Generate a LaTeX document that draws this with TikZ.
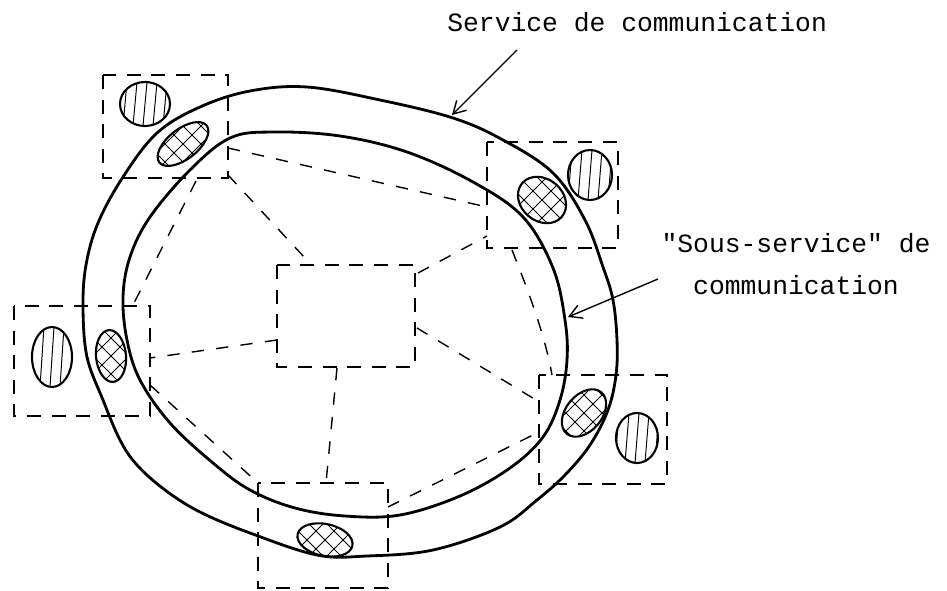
\documentclass[tikz,border=0pt]{standalone}
\usepackage{fontspec}
\setmonofont{Liberation Mono}
\usetikzlibrary{arrows.meta}

% blob with vertical hatching: x, y, x radius, y radius
\newcommand{\vblob}[4]{%
  \begin{scope}
    \clip (#1,#2) ellipse [x radius=#3, y radius=#4];
    \foreach \k in {-3,...,3}
      \draw[hatch] ({#1+\k*10+2},{#2-#4}) -- ({#1+\k*10-2},{#2+#4});
  \end{scope}
  \draw[blob] (#1,#2) ellipse [x radius=#3, y radius=#4];
}
% blob with cross hatching: x, y, x radius, y radius, angle
\newcommand{\xblob}[5]{%
  \begin{scope}
    \clip[shift={(#1,#2)}, rotate=#5] (0,0) ellipse [x radius=#3, y radius=#4];
    \foreach \k in {-4,...,4} {
      \draw[hatch] ({#1+\k*18-40},{#2-40}) -- ({#1+\k*18+40},{#2+40});
      \draw[hatch] ({#1+\k*18+40},{#2-40}) -- ({#1+\k*18-40},{#2+40});
    }
  \end{scope}
  \draw[blob, shift={(#1,#2)}, rotate=#5] (0,0) ellipse [x radius=#3, y radius=#4];
}

\begin{document}
\begin{tikzpicture}[
  x=0.02cm, y=-0.02cm,
  ring/.style={line width=1.6pt, line join=round},
  site/.style={line width=1.1pt, dash pattern=on 8pt off 6pt},
  net/.style={line width=0.8pt, dash pattern=on 7pt off 7pt},
  blob/.style={line width=1.2pt},
  hatch/.style={line width=0.55pt},
  label/.style={font=\ttfamily\fontsize{15}{24}\selectfont, inner sep=0pt},
  pointer/.style={->, line width=0.8pt},
]
\tikzset{>={Straight Barb[length=7pt, width=8pt]}}
\useasboundingbox (0,0) rectangle (947,591);

% the two rings
\draw[ring] plot[smooth cycle, tension=0.6] coordinates {
  (157,133) (200,107) (250,91) (307,87) (380,100) (453,118) (503,140)
  (553,173) (585,220) (603,267) (613,300) (617,340) (616,375) (608,410)
  (590,445) (565,475) (537,500) (500,527) (433,550) (367,556) (317,555)
  (250,533) (200,512) (165,490) (137,465) (120,440) (103,400) (87,357)
  (83,307) (86,265) (98,223) (123,177)};
\draw[ring] plot[smooth cycle, tension=0.6] coordinates {
  (190,170) (230,138) (273,132) (340,136) (407,152) (473,182) (523,217)
  (553,268) (565,320) (567,360) (560,400) (543,437) (510,468) (460,496)
  (400,515) (345,516) (295,508) (250,490) (213,463) (170,423) (140,380)
  (127,340) (123,297) (130,257) (150,217)};

% sites
\draw[site] (103,75) rectangle (228,178);
\draw[site] (487,142) rectangle (618,248);
\draw[site] (14,306) rectangle (150,416);
\draw[site] (539,375) rectangle (667,484);
\draw[site] (258,483) rectangle (388,588);
\draw[site] (277,265) rectangle (415,367);

% links inside
\draw[net] (228,148) -- (487,207);
\draw[net] (228,175) -- (305,258);
\draw[net] (196,181) -- (133,305);
\draw[net] (277,340) -- (150,358);
\draw[net] (150,385) -- (258,483);
\draw[net] (337,368) -- (326,483);
\draw[net] (388,507) -- (539,432);
\draw[net] (417,328) -- (536,400);
\draw[net] (418,273) -- (487,236);
\draw[net] (512,250) .. controls (528,290) and (545,335) .. (552,375);

% stations
\vblob{145}{104}{25}{22}
\vblob{590}{175}{22}{25}
\vblob{52}{357}{20}{30}
\vblob{637}{438}{21}{25}
\xblob{183}{144}{30}{15}{38}
\xblob{542}{200}{26}{21}{-40}
\xblob{111}{356}{15}{26}{5}
\xblob{584}{413}{27}{18}{50}
\xblob{325}{540}{28}{16}{-12}

% labels
\node[label, anchor=base west] (svc) at (447,32) {Service de communication};
\node[label, anchor=north, align=center] (sub) at (796,233)
  {"Sous-service" de\\communication};
\coordinate (svc-a) at (517,50);
\coordinate (svc-b) at (452,115);
\coordinate (sub-a) at (658,279);
\coordinate (sub-b) at (568,317);
\draw[pointer] (svc-a) -- (svc-b);
\draw[pointer] (sub-a) -- (sub-b);
\end{tikzpicture}
\end{document}
